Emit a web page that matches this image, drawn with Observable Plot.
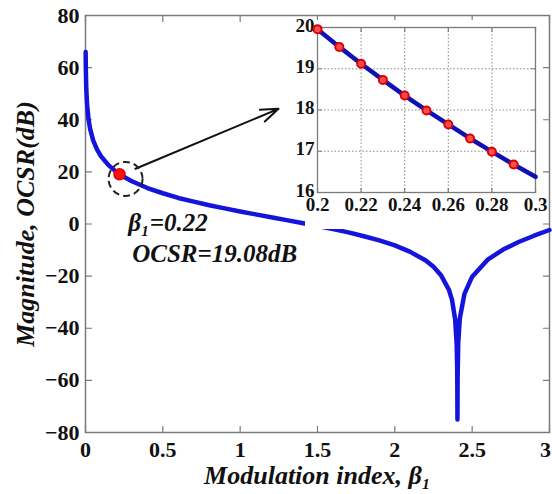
<!DOCTYPE html>
<html><head><meta charset="utf-8">
<script src="https://cdn.jsdelivr.net/npm/d3@7"></script>
<script src="https://cdn.jsdelivr.net/npm/@observablehq/plot@0.6"></script>
<style>
body{margin:0;background:#fff;}
#wrap{position:relative;width:552px;height:494px;}
#wrap svg{position:absolute;overflow:visible;background:transparent;}
#white{position:absolute;left:305px;top:20px;width:227px;height:209px;background:#fff;}
</style></head><body><div id="wrap"></div>
<script>
// Main curve: OCSR (dB) vs modulation index beta1
const beta = [0.001,0.002,0.005,0.01,0.02,0.03,0.05,0.075,0.1,0.15,0.2,0.25,0.3,0.4,0.5,0.6,0.7,0.8,0.9,1.0,1.1,1.2,1.3,1.4,1.5,1.6,1.7,1.8,1.9,2.0,2.1,2.2,2.25,2.3,2.35,2.37,2.39,2.40,2.403,2.404,2.4048,2.406,2.41,2.42,2.45,2.5,2.6,2.7,2.8,2.9,3.0];
const ocsr = [66,60,52,46,40,36.5,32,28.5,26,22.5,20,18,16.4,13.8,11.8,10,8.6,7.2,6,4.8,3.7,2.6,1.5,0.4,-0.75,-1.95,-3.2,-4.7,-6.3,-8.2,-10.7,-14,-16.4,-19.8,-25.3,-29.2,-36.6,-46.4,-54.9,-61.9,-75,-58.5,-45.7,-36.3,-26.8,-20.2,-13.7,-9.8,-6.9,-4.5,-2.3];
const xTicks = [0,0.5,1,1.5,2,2.5,3];
const xTickLabels = ["0","0.5","1","1.5","2","2.5","3"];
const yTicks = [-80,-60,-40,-20,0,20,40,60,80];
// Inset
const insetBeta = [0.2,0.21,0.22,0.23,0.24,0.25,0.26,0.27,0.28,0.29,0.3];
const insetOcsr = [19.96,19.53,19.12,18.73,18.35,17.99,17.65,17.31,16.99,16.68,16.38];
const markerBeta = [0.2,0.21,0.22,0.23,0.24,0.25,0.26,0.27,0.28,0.29];
const markerOcsr = [19.96,19.53,19.12,18.73,18.35,17.99,17.65,17.31,16.99,16.68];
const insetXTicks = [0.2,0.22,0.24,0.26,0.28,0.3];
const insetXTickLabels = ["0.2","0.22","0.24","0.26","0.28","0.3"];
const insetYTicks = [16,17,18,19,20];
// Annotation
const pointBeta = 0.22, pointOcsr = 19.08;
const labelBeta = "β₁=0.22";
const labelOcsr = "OCSR=19.08dB";
const xTitle = "Modulation index, β₁";
const yTitle = "Magnitude, OCSR(dB)";

const serif = "'Liberation Serif','Times New Roman',serif";
const blue = "#1414dc";
const frameGray = "#7a7a7a";
const tickShape = {draw(ctx, l) { ctx.moveTo(0, 0); ctx.lineTo(0, -l); }};

function inwardTicks(xs, ys, xDom, yDom, len) {
  return [
    Plot.vector(xs, {x: d => d, y: yDom[0], length: len, rotate: 0, anchor: "start", shape: tickShape, stroke: frameGray, strokeWidth: 1.2}),
    Plot.vector(xs, {x: d => d, y: yDom[1], length: len, rotate: 180, anchor: "start", shape: tickShape, stroke: frameGray, strokeWidth: 1.2}),
    Plot.vector(ys, {x: xDom[0], y: d => d, length: len, rotate: 90, anchor: "start", shape: tickShape, stroke: frameGray, strokeWidth: 1.2}),
    Plot.vector(ys, {x: xDom[1], y: d => d, length: len, rotate: -90, anchor: "start", shape: tickShape, stroke: frameGray, strokeWidth: 1.2})
  ];
}

const mainData = beta.map((b, i) => ({b, v: ocsr[i]}));
const tickText = {fontSize: 22, fontWeight: "bold", fill: "#111"};
const titleText = {fontSize: 26, fontWeight: "bold", fontStyle: "italic", fill: "#111"};

const main = Plot.plot({
  width: 552, height: 494,
  marginLeft: 85, marginRight: 3, marginTop: 15, marginBottom: 62,
  style: {fontFamily: serif, background: "transparent"},
  x: {domain: [0, 3]},
  y: {domain: [-80, 80]},
  marks: [
    Plot.frame({stroke: frameGray, strokeWidth: 1.5}),
    ...inwardTicks(xTicks, yTicks, [0, 3], [-80, 80], 6),
    Plot.axisX(xTicks.slice(0, -1), {tickSize: 0, tickPadding: 9, tickFormat: (d, i) => xTickLabels[i], label: null, ...tickText}),
    Plot.axisX(xTicks.slice(-1), {tickSize: 0, tickPadding: 9, dx: -4, tickFormat: () => xTickLabels[xTickLabels.length - 1], label: null, ...tickText}),
    Plot.axisY(yTicks, {tickSize: 0, tickPadding: 6, label: null, ...tickText}),
    Plot.line(mainData, {x: "b", y: "v", stroke: blue, strokeWidth: 4.5}),
    Plot.arrow([{x1: 0.323, y1: 21.2, x2: 1.248, y2: 44.2}], {x1: "x1", y1: "y1", x2: "x2", y2: "y2", stroke: "#111", strokeWidth: 2, headLength: 14, headAngle: 40}),
    Plot.dot([{b: 0.259, v: 17.3}], {x: "b", y: "v", r: 17, stroke: "#222", strokeWidth: 2, strokeDasharray: "7,4", fill: "none"}),
    Plot.dot([{b: pointBeta, v: pointOcsr}], {x: "b", y: "v", r: 5.5, fill: "#ff1010", stroke: "#e00000"}),
    Plot.text([labelBeta], {x: 0.276, y: 0.5, text: d => d, textAnchor: "start", fontSize: 25, fontWeight: "bold", fontStyle: "italic", fill: "#111"}),
    Plot.text([labelOcsr], {x: 0.302, y: -11.5, text: d => d, textAnchor: "start", fontSize: 25, fontWeight: "bold", fontStyle: "italic", fill: "#111"}),
    Plot.text([xTitle], {frameAnchor: "bottom", textAnchor: "middle", dy: 51, text: d => d, ...titleText}),
    Plot.text([yTitle], {frameAnchor: "left", textAnchor: "middle", dx: -60, rotate: -90, text: d => d, ...titleText})
  ]
});
main.style.left = "0px"; main.style.top = "0px";

const insetData = insetBeta.map((b, i) => ({b, v: insetOcsr[i]}));
const markerData = markerBeta.map((b, i) => ({b, v: markerOcsr[i]}));

const inset = Plot.plot({
  width: 260, height: 212,
  marginLeft: 37, marginRight: 5, marginTop: 7, marginBottom: 40,
  style: {fontFamily: serif, background: "transparent"},
  x: {domain: [0.2, 0.3]},
  y: {domain: [16, 20]},
  marks: [
    Plot.gridX(insetXTicks.slice(1, -1), {stroke: "#888", strokeOpacity: 1, strokeDasharray: "1.5,2", strokeWidth: 1}),
    Plot.gridY(insetYTicks.slice(1, -1), {stroke: "#888", strokeOpacity: 1, strokeDasharray: "1.5,2", strokeWidth: 1}),
    Plot.frame({stroke: frameGray, strokeWidth: 1.3}),
    ...inwardTicks(insetXTicks, insetYTicks, [0.2, 0.3], [16, 20], 4),
    Plot.axisX(insetXTicks, {tickSize: 0, tickPadding: 5, tickFormat: (d, i) => insetXTickLabels[i], label: null, fontSize: 19, fontWeight: "bold", fill: "#111"}),
    Plot.axisY(insetYTicks, {tickSize: 0, tickPadding: 3, dy: -2, label: null, fontSize: 19, fontWeight: "bold", fill: "#111"}),
    Plot.line(insetData, {x: "b", y: "v", stroke: "#1010b8", strokeWidth: 4.5}),
    Plot.dot(markerData, {x: "b", y: "v", r: 4, fill: "#ff5050", stroke: "#e00000", strokeWidth: 2})
  ]
});
inset.style.left = "280px"; inset.style.top = "20px";

const wrap = document.getElementById("wrap");
wrap.appendChild(main);
const white = document.createElement("div"); white.id = "white";
wrap.appendChild(white);
wrap.appendChild(inset);
</script></body></html>
